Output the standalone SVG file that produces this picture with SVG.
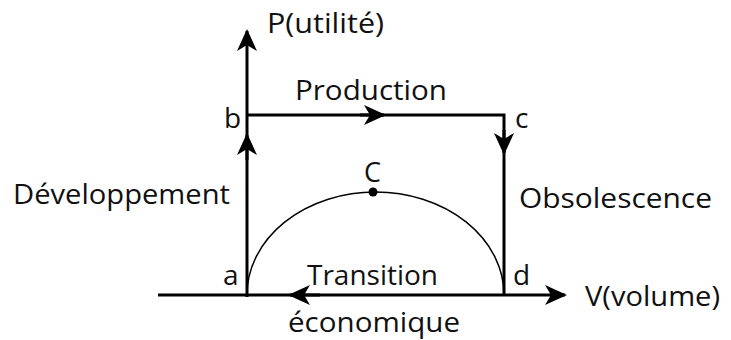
<svg xmlns="http://www.w3.org/2000/svg" width="731" height="340" viewBox="0 0 731 340">
<style>
.ln{stroke:#000;stroke-width:3;fill:none}
.t{font-family:"Open Sans",Lato,sans-serif;font-size:28px;fill:#111}
.ah{fill:#000}
</style>
<defs>
<marker id="arr" viewBox="0 0 22 22" refX="20" refY="11" markerWidth="22" markerHeight="22" markerUnits="userSpaceOnUse" orient="auto">
<path d="M0,1 L22,11 L0,21 L6,11 Z" class="ah"/>
</marker>
</defs>
<rect width="731" height="340" fill="#fff"/>
<g id="connectors">
<line class="ln" x1="247" y1="297" x2="247" y2="31" marker-end="url(#arr)"/>
<line class="ln" x1="158" y1="295" x2="565" y2="295" marker-end="url(#arr)"/>
<path class="ln" d="M247,115 H504 V295"/>
<path class="ln" d="M247,160 V135" marker-end="url(#arr)"/>
<path class="ln" d="M360,115 H384" marker-end="url(#arr)"/>
<path class="ln" d="M504,130 V153" marker-end="url(#arr)"/>
<path class="ln" d="M320,295 H290" marker-end="url(#arr)"/>
<path d="M247,295 A128.5,103 0 0 1 504,295" stroke="#000" stroke-width="1.5" fill="none"/>
</g>
<g id="node-C"><circle cx="373" cy="192" r="4.5" fill="#000"/><text class="t" x="364" y="182" textLength="17" lengthAdjust="spacingAndGlyphs">C</text></g>
<g id="label-P"><text class="t" x="267" y="33" textLength="117" lengthAdjust="spacingAndGlyphs">P(utilité)</text></g>
<g id="label-production"><text class="t" x="295" y="100" textLength="152" lengthAdjust="spacingAndGlyphs">Production</text></g>
<g id="node-b"><text class="t" x="224" y="128">b</text></g>
<g id="node-c"><text class="t" x="515" y="128">c</text></g>
<g id="label-dev"><text class="t" x="13" y="204" textLength="217" lengthAdjust="spacingAndGlyphs">Développement</text></g>
<g id="label-obs"><text class="t" x="519" y="208" textLength="193" lengthAdjust="spacingAndGlyphs">Obsolescence</text></g>
<g id="node-a"><text class="t" x="223" y="285">a</text></g>
<g id="label-transition"><text class="t" x="307" y="285" textLength="131" lengthAdjust="spacingAndGlyphs">Transition</text></g>
<g id="node-d"><text class="t" x="513" y="285">d</text></g>
<g id="label-V"><text class="t" x="585" y="306" textLength="135" lengthAdjust="spacingAndGlyphs">V(volume)</text></g>
<g id="label-eco"><text class="t" x="288" y="332" textLength="172" lengthAdjust="spacingAndGlyphs">économique</text></g>
</svg>
